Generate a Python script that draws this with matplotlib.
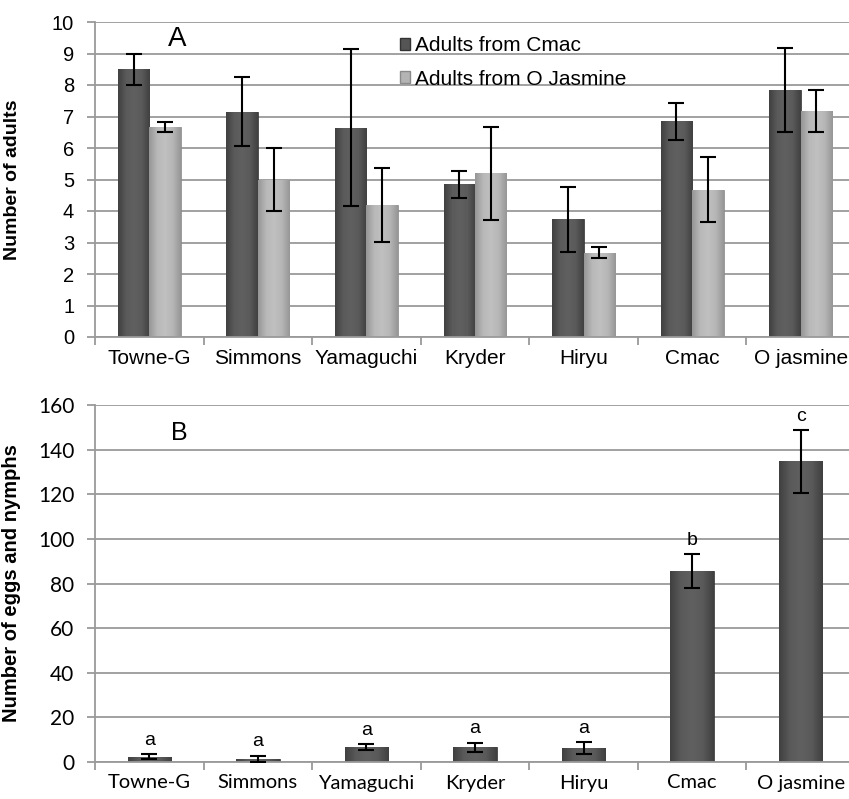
import matplotlib

matplotlib.use("Agg")
import matplotlib.pyplot as plt
from matplotlib.colors import LinearSegmentedColormap
import numpy as np

cultivars = ["Towne-G", "Simmons", "Yamaguchi", "Kryder", "Hiryu", "Cmac", "O jasmine"]

# panel A: adults
adults_cmac = [8.5, 7.15, 6.65, 4.85, 3.74, 6.85, 7.85]
adults_cmac_err = [0.5, 1.1, 2.48, 0.43, 1.03, 0.59, 1.33]
adults_ojas = [6.67, 5.0, 4.18, 5.2, 2.68, 4.68, 7.18]
adults_ojas_err = [0.16, 1.0, 1.17, 1.48, 0.17, 1.02, 0.67]

# panel B: eggs and nymphs
eggs = [2.3, 1.3, 6.6, 6.5, 6.2, 85.6, 134.7]
eggs_err = [1.1, 1.4, 1.3, 2.1, 2.7, 7.4, 14.0]
eggs_letters = ["a", "a", "a", "a", "a", "b", "c"]

DARK = "#555555"
LIGHT = "#b4b4b4"
GRID = "#9a9a9a"
CM_DARK = LinearSegmentedColormap.from_list("d", ["#404040", "#5a5a5a", "#606060", "#5a5a5a", "#404040"])
CM_LIGHT = LinearSegmentedColormap.from_list("l", ["#969696", "#b8b8b8", "#c0c0c0", "#b6b6b6", "#969696"])

W, H = 849, 799
fig = plt.figure(figsize=(W / 100, H / 100), dpi=100)


def _shade(ax, bars, cmap):
    """Fill each bar with a horizontal gradient, clipped to the bar."""
    grad = np.linspace(0, 1, 64).reshape(1, -1)
    for b in bars:
        x0, y0 = b.get_x(), b.get_y()
        x1, y1 = x0 + b.get_width(), y0 + b.get_height()
        im = ax.imshow(grad, extent=[x0, x1, y0, y1], aspect="auto", cmap=cmap,
                       origin="lower", zorder=b.get_zorder(), interpolation="bicubic")
        im.set_clip_path(b)
        b.set_facecolor("none")


def _style(ax, ylim, step):
    ax.set_xlim(-0.5, len(cultivars) - 0.5)
    ax.set_ylim(*ylim)
    ax.set_yticks(np.arange(ylim[0], ylim[1] + 0.1, step))
    ax.yaxis.grid(True, color=GRID, linewidth=1.3)
    ax.set_axisbelow(True)
    for s in ["top", "right"]:
        ax.spines[s].set_visible(False)
    ax.spines["left"].set_color(GRID)
    ax.spines["bottom"].set_color(GRID)
    ax.spines["left"].set_linewidth(1.3)
    ax.spines["bottom"].set_linewidth(1.3)
    ax.set_xticks(range(len(cultivars)))
    ax.set_xticks(np.arange(-0.5, len(cultivars)), minor=True)
    ax.tick_params(axis="x", which="major", length=0, pad=9)
    ax.tick_params(axis="x", which="minor", length=6, color=GRID, width=1.3)
    ax.tick_params(axis="y", length=6, color=GRID, width=1.3, pad=9)
    ax.yaxis.set_label_coords(-0.097, 0.5)


# ---- panel A
axA = fig.add_axes([95 / W, 1 - 337 / H, 760 / W, 315 / H])
x = np.arange(len(cultivars))
bw = 0.29
ek = dict(ecolor="black", capsize=6, elinewidth=1.5, capthick=1.5, zorder=5)
bA1 = axA.bar(x - bw / 2, adults_cmac, bw, color=DARK, edgecolor="#333333", linewidth=0.6,
              yerr=adults_cmac_err, error_kw=ek, label="Adults from Cmac")
bA2 = axA.bar(x + bw / 2, adults_ojas, bw, color=LIGHT, edgecolor="#8a8a8a", linewidth=0.6,
              yerr=adults_ojas_err, error_kw=ek, label="Adults from O Jasmine")
_shade(axA, bA1, CM_DARK)
_shade(axA, bA2, CM_LIGHT)
_style(axA, (0, 10), 1)
axA.set_xticklabels(cultivars, fontsize=15, family="Liberation Sans")
for lab in axA.get_yticklabels():
    lab.set_fontsize(14.5)
    lab.set_family("Liberation Sans")
axA.set_ylabel("Number of adults", fontsize=14, fontweight="bold", family="Liberation Sans")
axA.text(0.26, 9.88, "A", fontsize=20, family="Liberation Sans", va="top", ha="center")

# legend drawn with proxy handles so the swatches stay solid
hd = plt.Rectangle((0, 0), 1, 1, facecolor=DARK, edgecolor="#333333")
hl = plt.Rectangle((0, 0), 1, 1, facecolor=LIGHT, edgecolor="#8a8a8a")
axA.legend([hd, hl], ["Adults from Cmac", "Adults from O Jasmine"],
           loc="upper left", bbox_to_anchor=(0.401, 0.955), frameon=False,
           prop={"family": "Liberation Sans", "size": 15},
           handlelength=0.5, handleheight=0.5, handletextpad=0.25,
           labelspacing=0.7, borderaxespad=0, borderpad=0)

# ---- panel B
axB = fig.add_axes([95 / W, 1 - 762 / H, 760 / W, 357 / H])
bw2 = 0.4
bB = axB.bar(x, eggs, bw2, color=DARK, edgecolor="#333333", linewidth=0.6,
             yerr=eggs_err, error_kw=ek)
_shade(axB, bB, CM_DARK)
_style(axB, (0, 160), 20)
axB.set_xticklabels(cultivars, fontsize=14.5, family="Lato")
for lab in axB.get_yticklabels():
    lab.set_fontsize(15)
    lab.set_family("Lato")
axB.set_ylabel("Number of eggs and nymphs", fontsize=14.5, fontweight="bold",
               family="Liberation Sans")
axB.text(0.28, 153, "B", fontsize=18, family="Liberation Sans", va="top", ha="center")
for xi, v, e, t in zip(x, eggs, eggs_err, eggs_letters):
    axB.annotate(t, (xi, v + e), xytext=(0, 4), textcoords="offset points",
                 ha="center", va="bottom", fontsize=14, family="Liberation Sans")

fig.savefig("out.png", dpi=100)
